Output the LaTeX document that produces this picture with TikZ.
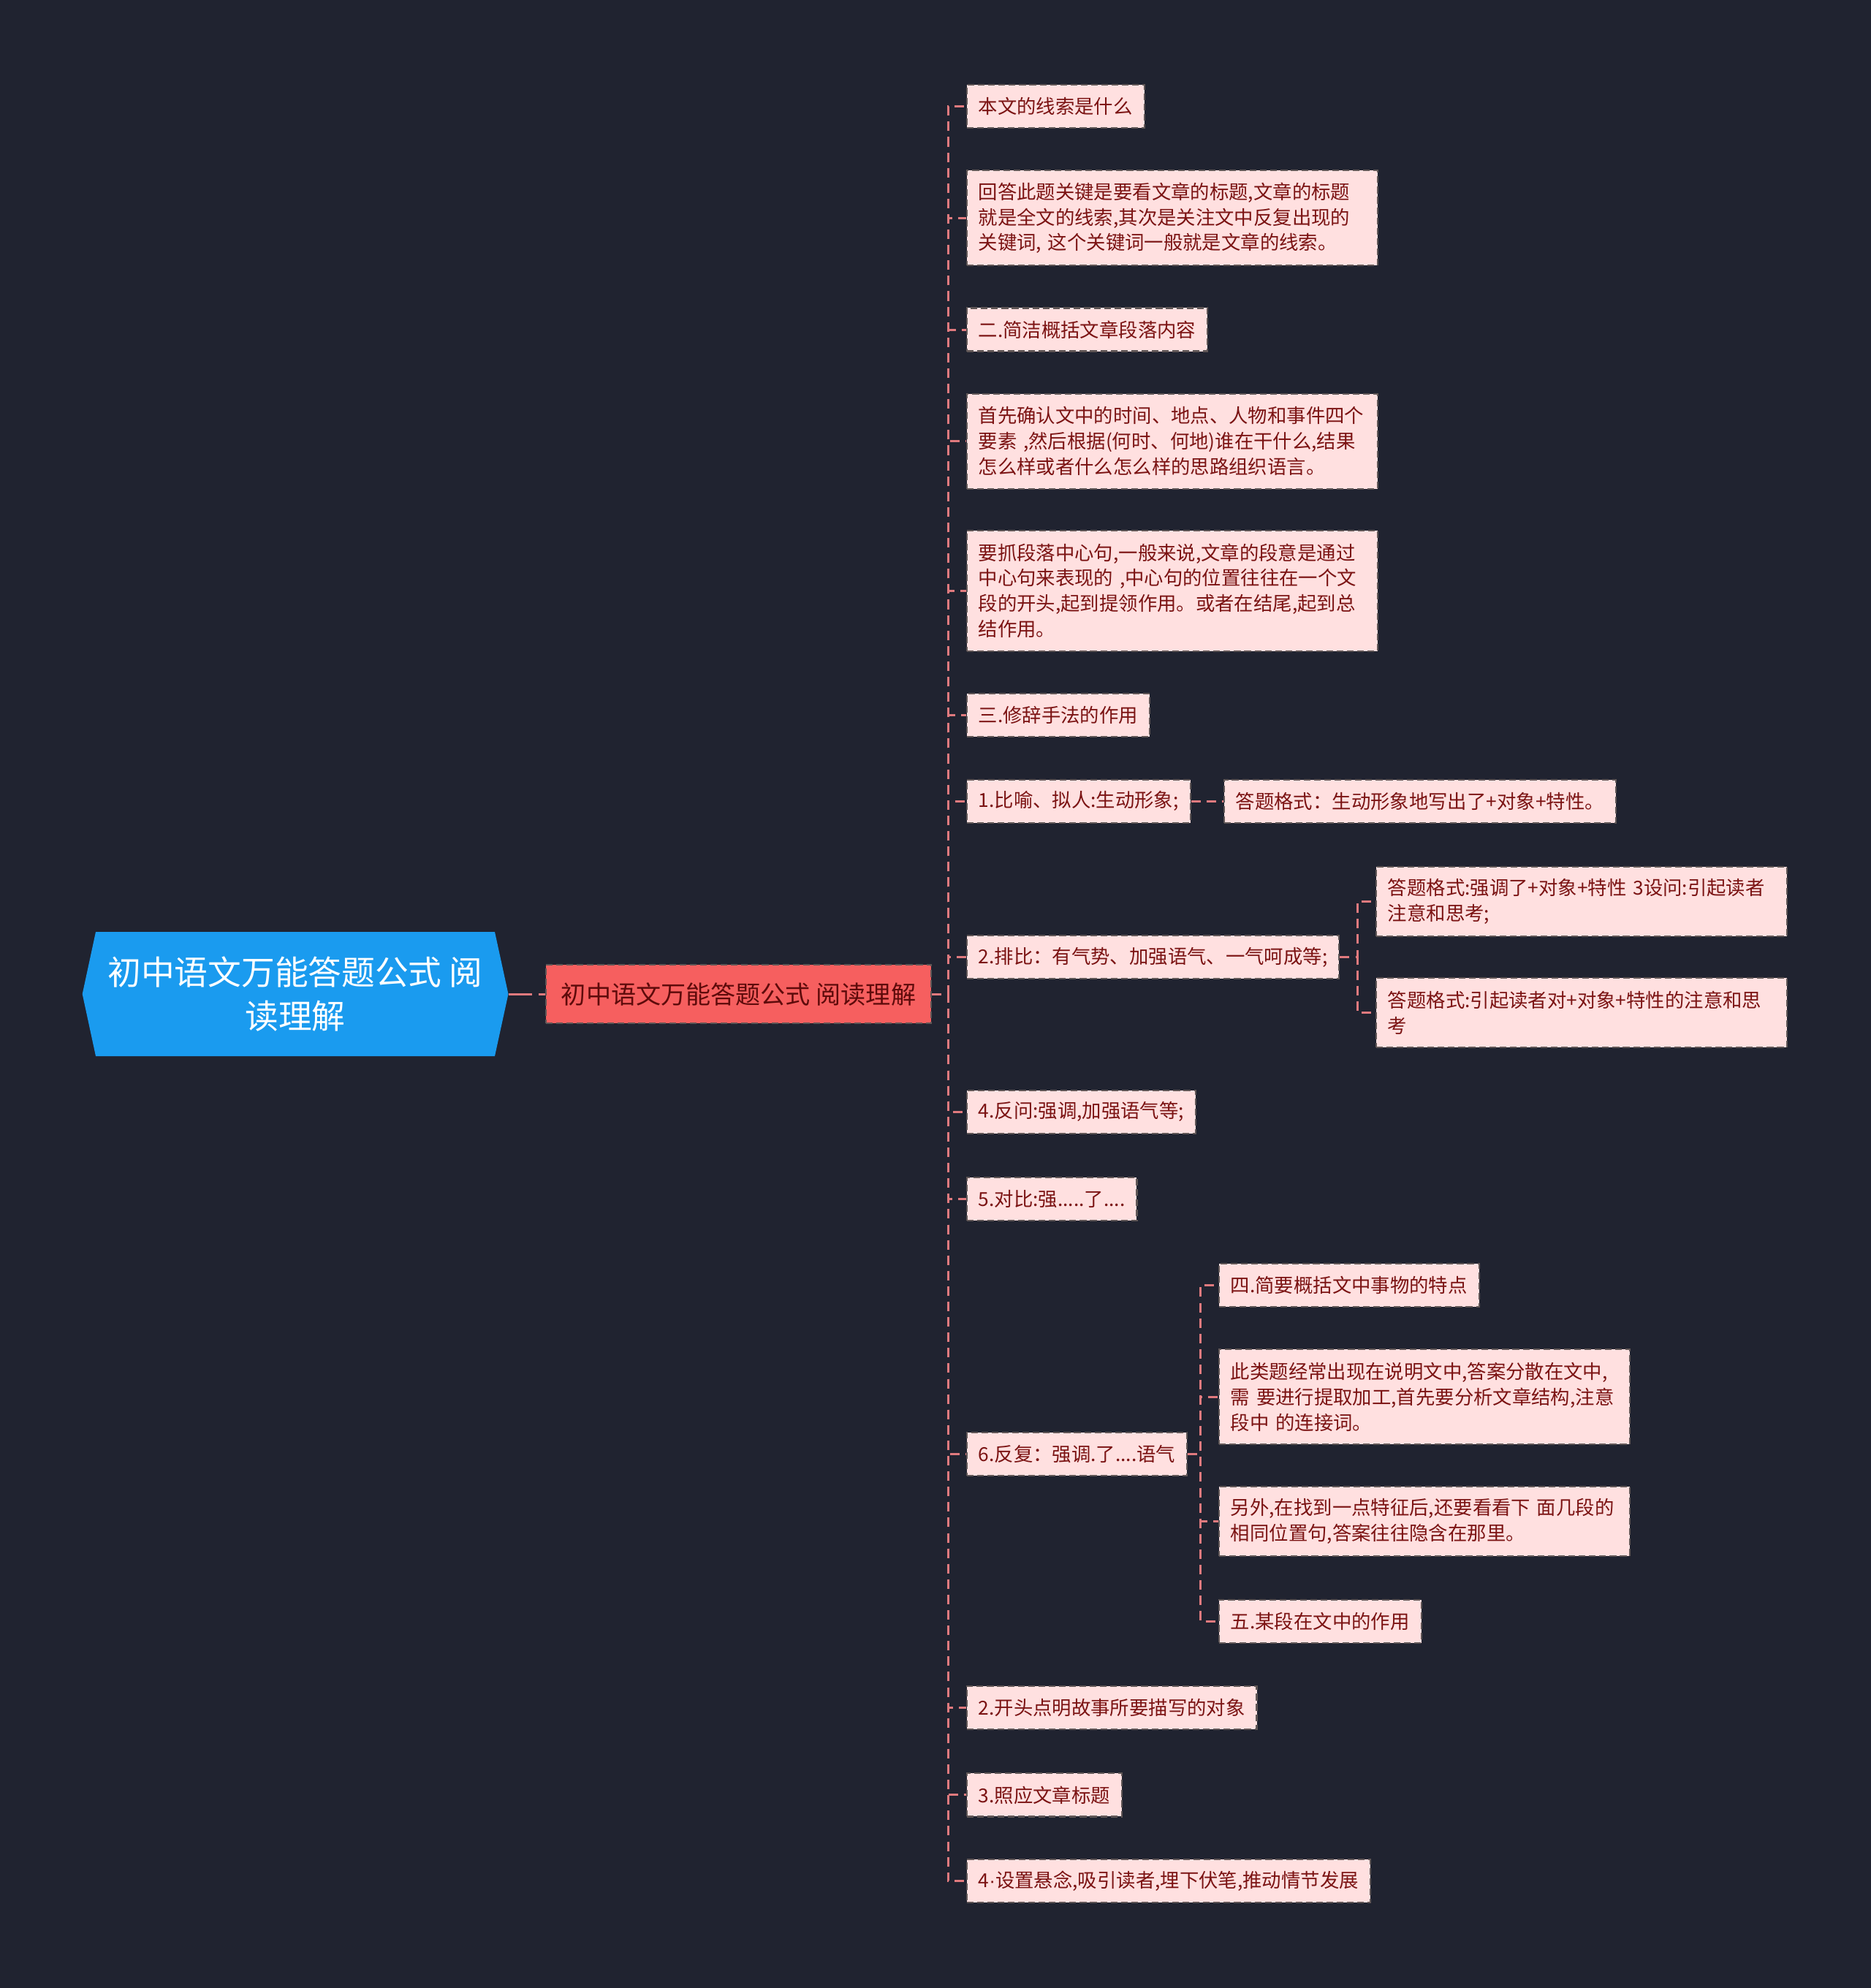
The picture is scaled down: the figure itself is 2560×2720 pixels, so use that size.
\documentclass[tikz,border=0pt]{standalone}
\usepackage{fontspec}
\newfontfamily\cjk{Noto Sans CJK SC}
\newfontfamily\latinf{Liberation Sans}
\definecolor{bgcol}{HTML}{202330}
\definecolor{rootblue}{HTML}{1A9BEF}
\definecolor{lonefill}{HTML}{F65F5F}
\definecolor{lonetext}{HTML}{5E0B0B}
\definecolor{leaffill}{HTML}{FFE0E0}
\definecolor{leaftext}{HTML}{7B1313}
\definecolor{leafborder}{HTML}{5F5656}
\definecolor{conncol}{HTML}{E07A7E}
\tikzset{
  leaf/.style={draw=leafborder, dash pattern=on 2.6pt off 1.4pt, line width=0.6pt,
    fill=leaffill, text=leaftext, font=\cjk\fontsize{7.5pt}{9.9pt}\selectfont,
    inner xsep=0.16cm, inner ysep=0cm, minimum height=0.59cm, anchor=west, align=left},
  multi/.style={text width=5.3cm},
  lone/.style={draw=leafborder, dash pattern=on 2.6pt off 1.4pt, line width=0.6pt,
    fill=lonefill, text=lonetext, font=\cjk\fontsize{9.7pt}{12pt}\selectfont,
    minimum width=5.27cm, minimum height=0.80cm, inner sep=0pt, anchor=west},
  rootnode/.style={text=white, font=\cjk\fontsize{13pt}{17.3pt}\selectfont, align=center,
    minimum width=5.83cm, minimum height=1.70cm, inner sep=0pt},
  conn/.style={draw=conncol, line width=0.85pt, dash pattern=on 3.7pt off 2.3pt},
}
\begin{document}
\begin{tikzpicture}[x=0.01cm,y=-0.01cm]
\fill[bgcol] (0,0) rectangle (2560,2720);
% root hexagon
\fill[rootblue] (112.7,1360) -- (131,1275) -- (677,1275) -- (695.5,1360) -- (677,1445) -- (131,1445) -- cycle;
\node[rootnode] (root) at (404,1360) {初中语文万能答题公式 阅\\读理解};
\node[lone] (l1) at (745.8,1360) {初中语文万能答题公式 阅读理解};

% spine coordinates
\coordinate (s0) at (1297.3,1360);
\coordinate (s8) at (1857.5,1309.5);
\coordinate (s11) at (1642.5,1989.4);

% level 2
\node[leaf] (n1) at (1321.6,145.7) {本文的线索是什么};
\node[leaf,multi,minimum height=1.30cm] (n2) at (1321.6,298.3) {回答此题关键是要看文章的标题,文章的标题\\就是全文的线索,其次是关注文中反复出现的\\关键词, 这个关键词一般就是文章的线索。};
\node[leaf] (n3) at (1321.6,451) {二.简洁概括文章段落内容};
\node[leaf,multi,minimum height=1.30cm] (n4) at (1321.6,603.6) {首先确认文中的时间、地点、人物和事件四个\\要素 ,然后根据(何时、何地)谁在干什么,结果\\怎么样或者什么怎么样的思路组织语言。};
\node[leaf,multi,minimum height=1.65cm] (n5) at (1321.6,808.2) {要抓段落中心句,一般来说,文章的段意是通过\\中心句来表现的 ,中心句的位置往往在一个文\\段的开头,起到提领作用。或者在结尾,起到总\\结作用。};
\node[leaf] (n6) at (1321.6,978.2) {三.修辞手法的作用};
\node[leaf] (n7) at (1321.6,1096.1) {1.比喻、拟人:生动形象;};
\node[leaf] (n8) at (1321.6,1309.5) {2.排比：有气势、加强语气、一气呵成等;};
\node[leaf] (n9) at (1321.6,1521.1) {4.反问:强调,加强语气等;};
\node[leaf] (n10) at (1321.6,1640.7) {5.对比:强.....了....};
\node[leaf] (n11) at (1321.6,1989.4) {6.反复：强调.了....语气};
\node[leaf] (n12) at (1321.6,2336.2) {2.开头点明故事所要描写的对象};
\node[leaf] (n13) at (1321.6,2455.9) {3.照应文章标题};
\node[leaf] (n14) at (1321.6,2573.8) {4{\latinf ·}设置悬念,吸引读者,埋下伏笔,推动情节发展};

% level 3
\node[leaf] (n7c) at (1673.7,1096.1) {答题格式：生动形象地写出了+对象+特性。};
\node[leaf,multi,minimum height=0.95cm] (n8a) at (1881.8,1233.2) {答题格式:强调了+对象+特性 3设问:引起读者\\注意和思考;};
\node[leaf,multi,minimum height=0.95cm] (n8b) at (1881.8,1385.8) {答题格式:引起读者对+对象+特性的注意和思\\考};
\node[leaf] (n11a) at (1666.8,1758.7) {四.简要概括文中事物的特点};
\node[leaf,multi,minimum height=1.30cm] (n11b) at (1666.8,1911.3) {此类题经常出现在说明文中,答案分散在文中,\\需 要进行提取加工,首先要分析文章结构,注意\\段中 的连接词。};
\node[leaf,multi,minimum height=0.95cm] (n11c) at (1666.8,2081.3) {另外,在找到一点特征后,还要看看下 面几段的\\相同位置句,答案往往隐含在那里。};
\node[leaf] (n11d) at (1666.8,2218.3) {五.某段在文中的作用};

% connectors
\draw[conn, dash pattern=on 9pt off 2.5pt] (root.east) -- (l1.west);
\foreach \n in {n1,n2,n3,n4,n5,n6,n7,n8,n9,n10,n11,n12,n13,n14}
  \draw[conn] (l1.east) -- (s0) |- (\n.west);
\draw[conn] (n7.east) -- (n7c.west);
\foreach \n in {n8a,n8b}
  \draw[conn] (n8.east) -- (s8) |- (\n.west);
\foreach \n in {n11a,n11b,n11c,n11d}
  \draw[conn] (n11.east) -- (s11) |- (\n.west);
\end{tikzpicture}
\end{document}
